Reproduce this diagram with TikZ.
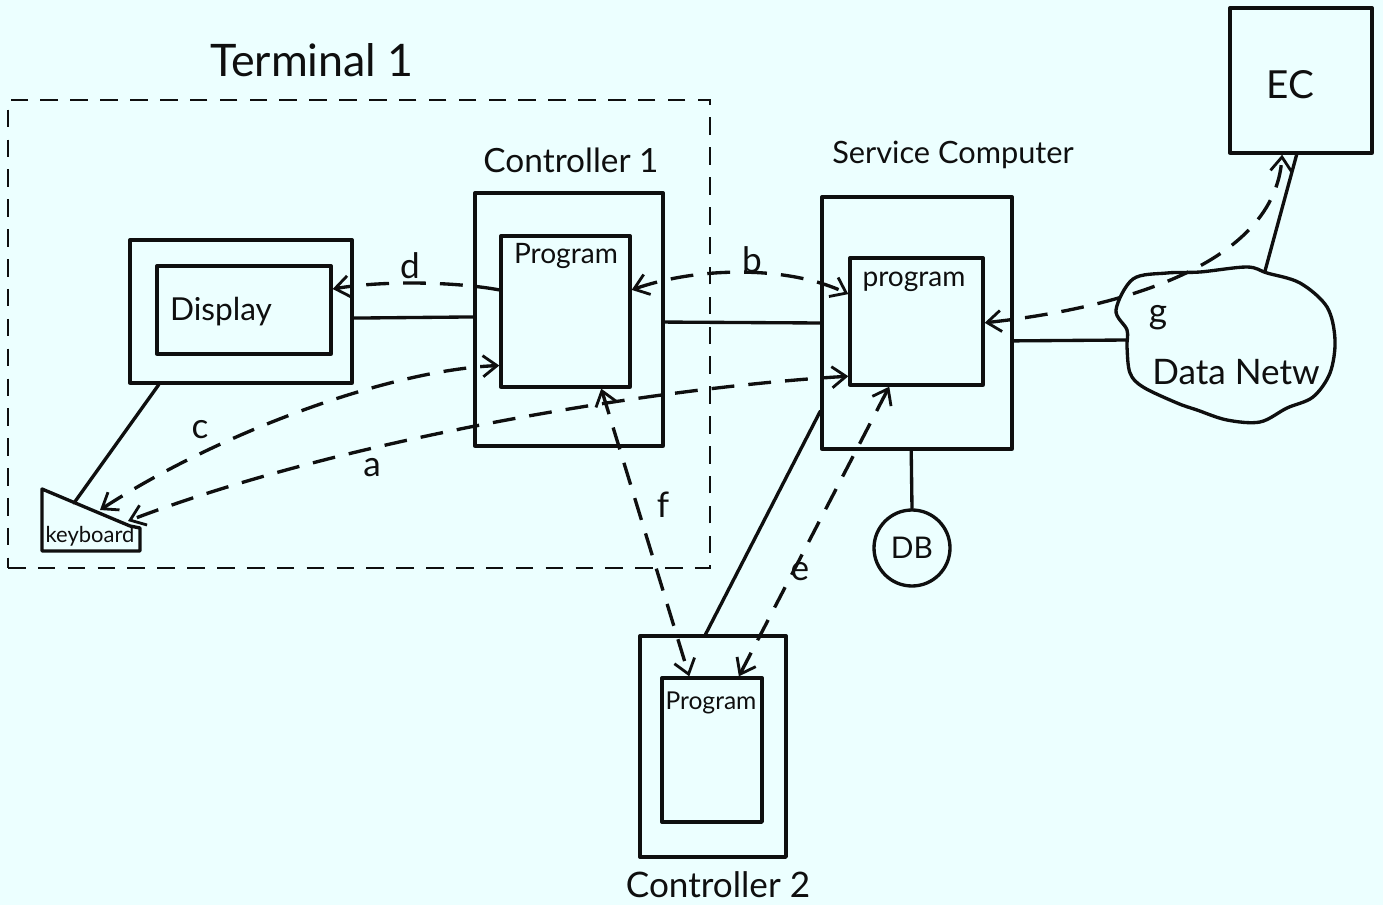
\documentclass[tikz,border=0pt]{standalone}
\usepackage{fontspec}
\setmainfont{Lato}
\usetikzlibrary{arrows.meta,calc,fit}
\definecolor{paper}{RGB}{236,255,255}
\definecolor{ink}{RGB}{15,15,15}

\begin{document}
\begin{tikzpicture}[x=0.02cm,y=-0.02cm,
  inkline/.style={line width=1.9pt, draw=ink, line cap=round, line join=round},
  box/.style={inkline, inner sep=0pt},
  termbox/.style={line width=1.3pt, draw=ink, dash pattern=on 10pt off 7pt, inner sep=0pt},
  tip/.tip={Straight Barb[length=8pt,width=12pt,line width=1.6pt]},
  flow/.style={inkline, line cap=butt, dash pattern=on 13pt off 8pt},
  both/.style={flow, tip-tip},
  single/.style={flow, -tip},
  lbl/.style={text=ink, inner sep=0pt, font=\fontsize{20}{22}\selectfont},
  small/.style={text=ink, inner sep=0pt, font=\fontsize{16}{18}\selectfont}]

% page
\fill[paper] (0,0) rectangle (1383,905);
\useasboundingbox (0,0) rectangle (1383,905);

% Terminal 1 group
\node[termbox, fit={(8,100)(710,568)}] (term) {};
\node[lbl, font=\fontsize{25.5}{27}\selectfont] (termlbl) at (312,60) {Terminal 1};

% display
\node[box, fit={(130,240)(352,383)}] (dispout) {};
\node[box, fit={(157,266)(331,354)}] (dispin) {};
\node[lbl, font=\fontsize{18}{20}\selectfont] (displbl) at (221,312) {Display};

% keyboard
\draw[inkline] (42,489) coordinate (kbtl) -- (130,526) -- (140,528) -- (140,551) -- (42,551) -- cycle;
\coordinate (kbl) at (74,503);
\coordinate (kbc) at (100,510);
\coordinate (kba) at (128,521);
\node[text=ink, inner sep=0pt, font=\fontsize{12.5}{14}\selectfont] (kblbl) at (90,536) {keyboard};

% controller 1
\node[box, fit={(475,193)(663,446)}] (ctl1) {};
\node[box, fit={(501,236)(630,387)}] (prog1) {};
\node[lbl, font=\fontsize{19}{21}\selectfont] (ctl1lbl) at (571,160) {Controller 1};
\node[small] (prog1lbl) at (566,256) {Program};

% service computer
\node[box, fit={(822,197)(1012,449)}] (svc) {};
\node[box, fit={(850,258)(983,385)}] (sprog) {};
\node[lbl, font=\fontsize{17.5}{19}\selectfont] (svclbl) at (953,155) {Service Computer};
\node[small] (sproglbl) at (914,282) {program};

% database
\node[inkline, circle, minimum size=76*0.02cm, inner sep=0pt] (db) at (912,548) {};
\node[text=ink, inner sep=0pt, font=\fontsize{17}{19}\selectfont] (dblbl) at (db) {DB};

% EC
\node[box, fit={(1230,8)(1372,153)}] (ec) {};
\node[lbl, font=\fontsize{22}{24}\selectfont] (eclbl) at (1290,85) {EC};

% data network cloud
\draw[inkline] plot[smooth cycle, tension=0.55] coordinates {
  (1116,310) (1133,279) (1167,273) (1200,272) (1247,267) (1267,273)
  (1300,283) (1327,307) (1335,340) (1330,373) (1313,397) (1287,408)
  (1260,422) (1227,420) (1197,410) (1177,403) (1143,387) (1130,373)
  (1127,347) (1127,330)};
\coordinate (netw) at (1127,340);
\coordinate (netn) at (1265,271);
\node[lbl] (netlbl) at (1236,372) {Data Netw};

% controller 2
\node[box, fit={(640,636)(786,857)}] (ctl2) {};
\node[box, fit={(662,678)(762,822)}] (prog2) {};
\node[lbl] (ctl2lbl) at (718,885) {Controller 2};
\node[text=ink, inner sep=0pt, font=\fontsize{14}{16}\selectfont] (prog2lbl) at (711,703) {Program};

% solid links
\draw[inkline] ($(dispout.north east)!0.545!(dispout.south east)$) -- ($(ctl1.north west)!0.49!(ctl1.south west)$);
\draw[inkline] ($(ctl1.north east)!0.51!(ctl1.south east)$) -- ($(svc.north west)!0.5!(svc.south west)$);
\draw[inkline] ($(svc.north east)!0.57!(svc.south east)$) -- (netw);
\draw[inkline] ($(svc.north west)!0.845!(svc.south west)$) -- ($(ctl2.north west)!0.45!(ctl2.north east)$);
\draw[inkline] ($(svc.south west)!0.47!(svc.south east)$) -- (db.north);
\draw[inkline] ($(ec.south west)!0.47!(ec.south east)$) -- (netn);
\draw[inkline] ($(dispout.south west)!0.135!(dispout.south east)$) -- (kbl);

% message flows
\draw[single] ($(prog1.north west)!0.36!(prog1.south west)$)
  .. controls (450,281) and (380,281) .. ($(dispin.north east)!0.27!(dispin.south east)$);
\draw[both] ($(prog1.north east)!0.36!(prog1.south east)$)
  .. controls (700,266) and (790,266) .. ($(sprog.north west)!0.29!(sprog.south west)$);
\draw[both] (kbc) .. controls (220,432) and (390,370) .. ($(prog1.north west)!0.85!(prog1.south west)$);
\draw[both] ($(sprog.north west)!0.92!(sprog.south west)$)
  .. controls (650,388) and (340,440) .. (kba);
\draw[both] ($(prog1.south west)!0.77!(prog1.south east)$) -- ($(prog2.north west)!0.28!(prog2.north east)$);
\draw[both] ($(prog2.north west)!0.76!(prog2.north east)$) -- ($(sprog.south west)!0.30!(sprog.south east)$);
\draw[both] ($(sprog.north east)!0.51!(sprog.south east)$)
  .. controls (1120,308) and (1275,265) .. ($(ec.south west)!0.37!(ec.south east)$);

% flow labels
\node[lbl] (la) at (372,468) {a};
\node[lbl] (lb) at (752,260) {b};
\node[lbl] (lc) at (200,430) {c};
\node[lbl] (ld) at (410,266) {d};
\node[lbl] (le) at (800,572) {e};
\node[lbl] (lf) at (663,505) {f};
\node[lbl] (lg) at (1158,318) {g};
\end{tikzpicture}
\end{document}
